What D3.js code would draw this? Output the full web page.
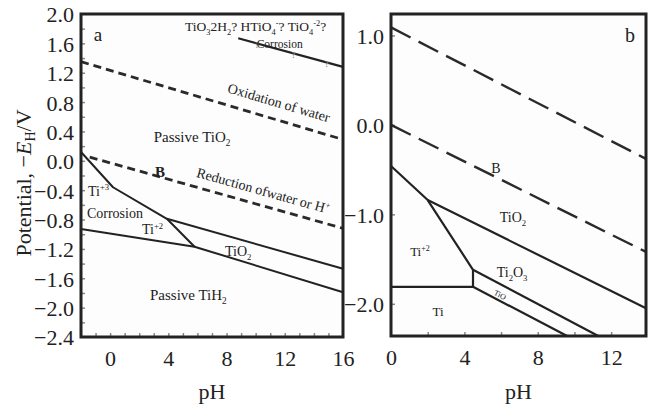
<!DOCTYPE html>
<html>
<head>
<meta charset="utf-8">
<script src="https://cdn.jsdelivr.net/npm/d3@7"></script>
<style>
  body { margin: 0; background: #fff; }
  svg { display: block; font-family: "Liberation Serif", "Times New Roman", serif; }
</style>
</head>
<body>
<script>
// ---- data ----
var phDomainA = [-2, 16];
var eDomainA = [-2.4, 2.0];
var phTicksA = [0, 4, 8, 12, 16];
var eTicksA = [2.0, 1.6, 1.2, 0.8, 0.4, 0.0, -0.4, -0.8, -1.2, -1.6, -2.0, -2.4];

var phDomainB = [0, 13.9];
var eDomainB = [-2.36, 1.24];
var phTicksB = [0, 4, 8, 12];
var eTicksB = [1.0, 0.0, -1.0, -2.0];

// panel a boundaries, [pH, E]
var oxidationA = [[-2, 1.35], [16, 0.29]];
var reductionA = [[-1.4, 0.05], [16, -0.92]];
var corrosionTopA = [[8.8, 1.67], [16, 1.28]];
var ti3BoundaryA = [[-2, 0.12], [0.2, -0.36], [3.9, -0.79], [5.8, -1.17]];
var tio2UpperA = [[3.9, -0.79], [16, -1.47]];
var tih2BoundaryA = [[-2, -0.93], [5.8, -1.17], [16, -1.79]];
var questionPhA = [10.1, 12.6, 14.9];

// panel b boundaries
var waterTopB = [[0, 1.09], [13.9, -0.38]];
var waterBottomB = [[0, 0.0], [13.9, -1.42]];
var ti2BoundaryB = [[0, -0.46], [2, -0.84], [4.47, -1.62], [4.47, -1.81], [0, -1.81]];
var tio2LineB = [[2, -0.84], [13.9, -2.05]];
var ti2o3LineB = [[4.47, -1.62], [11.3, -2.36]];
var tioLineB = [[4.47, -1.81], [9.6, -2.36]];

// labels: text, pH, E
var labelsA = [
  {t: "TiO_{3}2H_{2}? HTiO_{4}^{-}? TiO_{4}^{-2}?", ph: 5.15, e: 1.825, size: 13.5, anchor: "start"},
  {t: "Corrosion", ph: 11.65, e: 1.59, size: 11.5, anchor: "middle"},
  {t: "Passive TiO_{2}", ph: 5.63, e: 0.325, size: 15, anchor: "middle"},
  {t: "B", ph: 3.43, e: -0.15, size: 15, anchor: "middle", bold: true},
  {t: "Ti^{+3}", ph: -1.52, e: -0.41, size: 14, anchor: "start"},
  {t: "Corrosion", ph: -1.59, e: -0.71, size: 14, anchor: "start"},
  {t: "Ti^{+2}", ph: 2.19, e: -0.94, size: 14, anchor: "start"},
  {t: "TiO_{2}", ph: 7.89, e: -1.24, size: 14, anchor: "start"},
  {t: "Passive TiH_{2}", ph: 2.74, e: -1.83, size: 15, anchor: "start"}
];
var slopeLabelsA = [
  {t: "Oxidation of water", ph: 11.5, e: 0.73, line: oxidationA},
  {t: "Reduction ofwater or H^{+}", ph: 10.43, e: -0.47, line: reductionA}
];
var labelsB = [
  {t: "b", ph: 13.03, e: 1.005, size: 20, anchor: "middle"},
  {t: "B", ph: 5.72, e: -0.49, size: 14, anchor: "middle"},
  {t: "TiO_{2}", ph: 6.65, e: -1.03, size: 14, anchor: "middle"},
  {t: "Ti_{2}O_{3}", ph: 6.6, e: -1.65, size: 14, anchor: "middle"},
  {t: "Ti^{+2}", ph: 1.58, e: -1.42, size: 13, anchor: "middle"},
  {t: "Ti", ph: 2.56, e: -2.09, size: 13, anchor: "middle"}
];

var width = 655, height = 406;
var ink = "#222";

var svg = d3.select("body").append("svg")
    .attr("width", width)
    .attr("height", height);

var xA = d3.scaleLinear().domain(phDomainA).range([81, 343]);
var yA = d3.scaleLinear().domain(eDomainA).range([337, 14]);
var xB = d3.scaleLinear().domain(phDomainB).range([391, 646]);
var yB = d3.scaleLinear().domain(eDomainB).range([336, 14]);

// sub/superscript helper: "TiO_{2}" and "Ti^{+3}"
function richText(sel, str, fs) {
  var re = /([_^])\{([^}]*)\}|([^_^]+)/g, m, shift = 0;
  while ((m = re.exec(str))) {
    var t = sel.append("tspan"), target = 0, txt = m[3];
    if (m[1] === "_") { target = 0.28 * fs; txt = m[2]; t.attr("font-size", fs * 0.62); }
    else if (m[1] === "^") { target = -0.38 * fs; txt = m[2]; t.attr("font-size", fs * 0.62); }
    t.attr("dy", target - shift).text(txt);
    shift = target;
  }
}

function drawPanel(x, y, phTicks, eTicks, phMinor, eMinor) {
  var g = svg.append("g");
  g.append("rect")
    .attr("x", x.range()[0]).attr("y", y.range()[1])
    .attr("width", x.range()[1] - x.range()[0])
    .attr("height", y.range()[0] - y.range()[1])
    .attr("fill", "#fdfdfd");

  // minor ticks pointing inward
  var minL = g.append("g").attr("transform", "translate(" + x.range()[0] + ",0)")
    .call(d3.axisLeft(y).tickValues(eMinor).tickSize(-4).tickFormat(""));
  var minB = g.append("g").attr("transform", "translate(0," + y.range()[0] + ")")
    .call(d3.axisBottom(x).tickValues(phMinor).tickSize(-4).tickFormat(""));
  [minL, minB].forEach(function(a) {
    a.select(".domain").remove();
    a.selectAll("line").attr("stroke", "#888").attr("stroke-width", 1.5);
  });

  // tick labels
  var yl = g.append("g").attr("transform", "translate(" + (x.range()[0] - 4) + ",0)")
    .call(d3.axisLeft(y).tickValues(eTicks).tickSize(0).tickFormat(d3.format(".1f")));
  var xl = g.append("g").attr("transform", "translate(0," + (y.range()[0] + 8) + ")")
    .call(d3.axisBottom(x).tickValues(phTicks).tickSize(0).tickFormat(d3.format("d")));
  [yl, xl].forEach(function(a) {
    a.attr("font-family", null);
    a.select(".domain").remove();
    a.selectAll("text")
      .attr("font-size", 22)
      .attr("fill", ink);
  });
  yl.selectAll("text").attr("dy", "0.36em");
  xl.selectAll("text").attr("dy", "0.8em");

  g.append("text")
    .attr("x", (x.range()[0] + x.range()[1]) / 2)
    .attr("y", 399)
    .attr("text-anchor", "middle")
    .attr("font-size", 22)
    .attr("fill", ink)
    .text("pH");
  return g;
}

var gA = drawPanel(xA, yA, phTicksA, eTicksA, d3.range(-1, 16, 1), d3.range(-2.2, 2.0, 0.2));
var gB = drawPanel(xB, yB, phTicksB, eTicksB, d3.range(2, 14, 2), eTicksB);

function drawLine(g, x, y, pts, dash, sw) {
  var line = d3.line().x(function(d) { return x(d[0]); }).y(function(d) { return y(d[1]); });
  g.append("path")
    .attr("d", line(pts))
    .attr("fill", "none")
    .attr("stroke", dash ? "#2a2a2a" : ink)
    .attr("stroke-width", sw)
    .attr("stroke-dasharray", dash || null)
    .attr("stroke-linejoin", "round");
}

// panel a lines
drawLine(gA, xA, yA, oxidationA, "8,5", 2.8);
drawLine(gA, xA, yA, reductionA, "8,5", 2.8);
drawLine(gA, xA, yA, corrosionTopA, null, 2.2);
drawLine(gA, xA, yA, ti3BoundaryA, null, 2);
drawLine(gA, xA, yA, tio2UpperA, null, 2);
drawLine(gA, xA, yA, tih2BoundaryA, null, 2);

// gray question marks on the top line
var topE = d3.scaleLinear().domain(corrosionTopA.map(function(d) { return d[0]; }))
  .range(corrosionTopA.map(function(d) { return d[1]; }));
gA.selectAll(".qm").data(questionPhA).enter().append("text")
  .attr("class", "qm")
  .attr("x", function(d) { return xA(d); })
  .attr("y", function(d) { return yA(topE(d)) + 4.5; })
  .attr("text-anchor", "middle")
  .attr("font-size", 7.5)
  .attr("font-weight", "bold")
  .attr("fill", "#8a8a8a")
  .text("?");

// panel b lines
drawLine(gB, xB, yB, waterTopB, "22,9", 2.4);
drawLine(gB, xB, yB, waterBottomB, "22,9", 2.4);
drawLine(gB, xB, yB, ti2BoundaryB, null, 2.2);
drawLine(gB, xB, yB, tio2LineB, null, 2.2);
drawLine(gB, xB, yB, ti2o3LineB, null, 2.2);
drawLine(gB, xB, yB, tioLineB, null, 2.2);

function drawLabels(g, x, y, labels) {
  labels.forEach(function(d) {
    var t = g.append("text")
      .attr("x", x(d.ph))
      .attr("y", y(d.e) + d.size * 0.33)
      .attr("text-anchor", d.anchor)
      .attr("font-size", d.size)
      .attr("font-weight", d.bold ? "bold" : null)
      .attr("fill", ink);
    richText(t, d.t, d.size);
  });
}
drawLabels(gA, xA, yA, labelsA);
drawLabels(gB, xB, yB, labelsB);

// "a" panel letter
gA.append("text")
  .attr("x", xA(-0.83)).attr("y", yA(1.71) + 6)
  .attr("text-anchor", "middle")
  .attr("font-size", 19)
  .attr("fill", ink)
  .text("a");

// labels running along the water lines
slopeLabelsA.forEach(function(d) {
  var p0 = d.line[0], p1 = d.line[d.line.length - 1];
  var ang = Math.atan2(yA(p1[1]) - yA(p0[1]), xA(p1[0]) - xA(p0[0])) * 180 / Math.PI;
  var t = gA.append("text")
    .attr("transform", "translate(" + xA(d.ph) + "," + yA(d.e) + ") rotate(" + ang + ")")
    .attr("dy", "0.33em")
    .attr("text-anchor", "middle")
    .attr("font-size", 14)
    .attr("fill", ink);
  richText(t, d.t, 14);
});

// tiny TiO label along its line
var tioAng = Math.atan2(yB(tioLineB[1][1]) - yB(tioLineB[0][1]), xB(tioLineB[1][0]) - xB(tioLineB[0][0])) * 180 / Math.PI;
gB.append("text")
  .attr("transform", "translate(" + xB(5.94) + "," + yB(-1.90) + ") rotate(" + tioAng + ")")
  .attr("dy", "0.33em")
  .attr("text-anchor", "middle")
  .attr("font-size", 8)
  .attr("fill", ink)
  .text("TiO");

// frames
[[gA, xA, yA], [gB, xB, yB]].forEach(function(p) {
  p[0].append("rect")
    .attr("x", p[1].range()[0]).attr("y", p[2].range()[1])
    .attr("width", p[1].range()[1] - p[1].range()[0])
    .attr("height", p[2].range()[0] - p[2].range()[1])
    .attr("fill", "none")
    .attr("stroke", ink)
    .attr("stroke-width", 3);
});

// y axis title
var yt = svg.append("text")
  .attr("transform", "translate(31,183) rotate(-90)")
  .attr("text-anchor", "middle")
  .attr("font-size", 22)
  .attr("fill", ink);
yt.append("tspan").text("Potential, \u2212");
yt.append("tspan").attr("font-style", "italic").text("E");
yt.append("tspan").attr("font-size", 14).attr("dy", 4).text("H");
yt.append("tspan").attr("dy", -4).text("/V");
</script>
</body>
</html>
